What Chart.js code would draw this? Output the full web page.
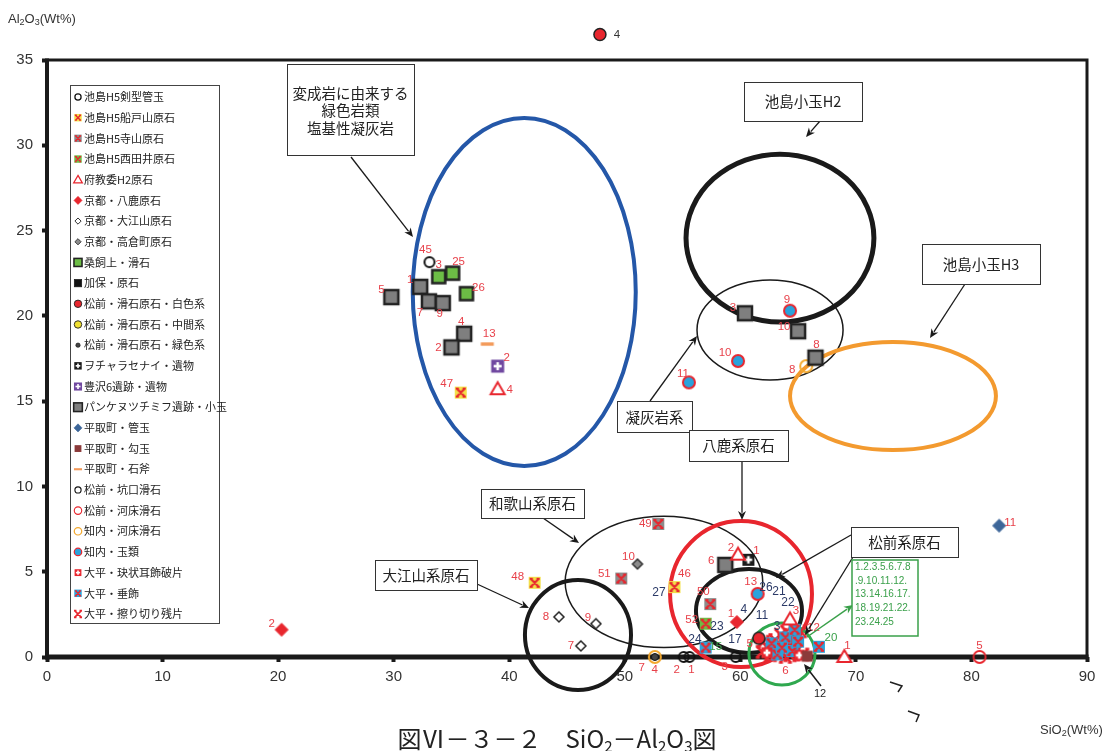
<!DOCTYPE html>
<html>
<head>
<meta charset="utf-8">
<script src="https://cdn.jsdelivr.net/npm/chart.js@4.4.1/dist/chart.umd.min.js"></script>
<style>
html, body { margin: 0; padding: 0; background: #fff; }
#wrap { width: 1105px; height: 751px; }
</style>
</head>
<body>
<div id="wrap"><canvas id="chart" width="1105" height="751"></canvas></div>
<script>
// axis ticks
const xTicks = [0, 10, 20, 30, 40, 50, 60, 70, 80, 90];
const yTicks = [0, 5, 10, 15, 20, 25, 30, 35];

// [SiO2, Al2O3, sample no.]
const kengata = [[33.1, 23.15, '45']];
const funatoyama = [[35.8, 15.5, '47'], [42.2, 4.35, '48'], [54.3, 4.1, '46']];
const terayama = [[52.9, 7.8, '49'], [49.7, 4.6, '51'], [57.4, 3.1, '50']];
const nishidai = [[57.0, 1.95, '52']];
const fukyoi = [[39.0, 15.7, '4'], [59.8, 6.0, '2'], [64.3, 2.2, '3'], [69.0, 0.0, '1']];
const yoka = [[20.3, 1.6, '2'], [59.7, 2.05, '1']];
const oeyama = [[44.3, 2.35, '8'], [47.5, 1.95, '9'], [46.2, 0.65, '7']];
const takakura = [[51.1, 5.45, '10']];
const kuwagai = [[33.9, 22.3, '3'], [35.1, 22.5, '25'], [36.3, 21.3, '26']];
const kaho = [];
const hakushoku = [[47.85, 36.5, '4'], [61.6, 1.1, '5']];
const chukan = [];
const ryokushoku = [[52.6, 0.0, '7']];
const ocharasenai = [[60.7, 5.7, '1']];
const toyosawa = [[39.0, 17.05, '2']];
const pankenu = [[32.3, 21.7, '1'], [29.8, 21.1, '5'], [33.05, 20.85, '7'], [34.25, 20.75, '9'],
  [36.1, 18.95, '4'], [35.0, 18.15, '2'], [60.4, 20.15, '3'], [65.0, 19.1, '10'],
  [66.5, 17.55, '8'], [58.7, 5.4, '6']];
const kudatama = [[82.4, 7.7, '11']];
const magatama = [[65.8, 0.05]];
const sekifu = [[38.1, 18.35, '13']];
const kokou = [[55.1, 0.0, '2'], [55.6, 0.0, '1'], [59.6, 0.0, '3']];
const kasho = [[80.7, 0.0, '5']];
const shiriuchiKasho = [[65.7, 17.05, '8'], [52.6, 0.0, '4']];
const shiriuchiTama = [[64.3, 20.3, '9'], [59.8, 17.35, '10'], [55.55, 16.1, '11'], [61.5, 3.7, '13']];
const ketsujo = [[65.1, 0.1], [62.3, 0.25]];
const suishoku = [[57.0, 0.55, '15'], [66.8, 0.6, '20'], [62.7, 0.8], [63.9, 1.15], [64.7, 1.6],
  [64.5, 0.35], [63.2, 0.15], [65.0, 0.9], [63.6, 0.55]];
const surikiri = [[61.9, 0.3], [62.3, 0.6], [62.6, 0.1], [63.0, 1.0], [63.3, 0.45], [63.5, 1.3],
  [63.9, 0.0, '6'], [64.1, 0.75], [64.3, 0.1], [64.6, 1.0], [64.9, 0.4], [65.2, 1.5, '12'],
  [63.1, 0.7], [62.0, 0.9], [64.0, 1.5], [65.4, 0.15]];

// unmarked sample numbers inside the 松前 ellipse
const navyTags = [[52.96, 3.75, '27'], [62.22, 4.04, '26'], [63.34, 3.81, '21'], [64.12, 3.17, '22'],
  [60.31, 2.75, '4'], [61.87, 2.4, '11'], [63.17, 1.76, '3'], [59.54, 1.0, '17'],
  [57.98, 1.76, '23'], [56.07, 1.0, '24']];

const RED = '#e8262e';
const LBL = '#e8414a';
const GRN = '#3aa04a';

const series = [
  { name: '池島H5剣型管玉', pts: kengata, st: { kind: 'ring', c: '#111', fill: '#fff', r: 5, lw: 2 }, off: { '45': [-4, -12] } },
  { name: '池島H5船戸山原石', pts: funatoyama, st: { kind: 'xsq', fill: '#f3e04a', s: 12 }, off: { '47': [-14, -9], '48': [-17, -6], '46': [10, -13] } },
  { name: '池島H5寺山原石', pts: terayama, st: { kind: 'xsq', fill: '#8c8c8c', s: 12 }, off: { '49': [-13, 0], '51': [-17, -5], '50': [-7, -12] } },
  { name: '池島H5西田井原石', pts: nishidai, st: { kind: 'xsq', fill: '#6cbd45', s: 12 }, off: { '52': [-14, -4] } },
  { name: '府教委H2原石', pts: fukyoi, st: { kind: 'tri', c: RED, s: 14, lw: 2 }, off: { '4': [12, 1], '2': [-7, -7], '3': [6, -9], '1': [3, -11] } },
  { name: '京都・八鹿原石', pts: yoka, st: { kind: 'dia', fill: RED, c: RED, s: 13, lw: 1 }, off: { '2': [-10, -6], '1': [-6, -8] } },
  { name: '京都・大江山原石', pts: oeyama, st: { kind: 'dia', fill: '#fff', c: '#222', s: 10, lw: 1.5 }, off: { '8': [-13, 0], '9': [-8, -6], '7': [-10, 0] } },
  { name: '京都・高倉町原石', pts: takakura, st: { kind: 'dia', fill: '#8c8c8c', c: '#333', s: 10, lw: 1.5 }, off: { '10': [-9, -7] } },
  { name: '桑飼上・滑石', pts: kuwagai, st: { kind: 'sq', fill: '#6cbd45', c: '#222', s: 13, lw: 2.5 }, off: { '3': [0, -12], '25': [6, -11], '26': [12, -6] } },
  { name: '加保・原石', pts: kaho, st: { kind: 'sq', fill: '#111', c: '#111', s: 12, lw: 1 }, off: {} },
  { name: '松前・滑石原石・白色系', pts: hakushoku, st: { kind: 'dot', fill: RED, c: '#222', r: 6, lw: 1.5 }, off: { '4': [17, 0, '#333'], '5': [-9, 6] } },
  { name: '松前・滑石原石・中間系', pts: chukan, st: { kind: 'dot', fill: '#f0e030', c: '#222', r: 6, lw: 1.5 }, off: {} },
  { name: '松前・滑石原石・緑色系', pts: ryokushoku, st: { kind: 'dot', fill: '#444', c: '#111', r: 3.5, lw: 1 }, off: { '7': [-13, 11] } },
  { name: 'ヲチャラセナイ・遺物', pts: ocharasenai, st: { kind: 'plus', fill: '#1a1a1a', s: 12 }, off: { '1': [8, -9] } },
  { name: '豊沢6遺跡・遺物', pts: toyosawa, st: { kind: 'plus', fill: '#7048a0', s: 13 }, off: { '2': [9, -8] } },
  { name: 'パンケヌツチミフ遺跡・小玉', pts: pankenu, st: { kind: 'sq', fill: '#7f7f7f', c: '#222', s: 14, lw: 2.5 },
    off: { '1': [-10, -7], '5': [-10, -7], '7': [-9, 11], '9': [-3, 11], '4': [-3, -12], '2': [-13, 0], '3': [-12, -5], '10': [-14, -4], '8': [1, -13], '6': [-14, -4] } },
  { name: '平取町・管玉', pts: kudatama, st: { kind: 'dia', fill: '#3d6699', c: '#3d6699', s: 13, lw: 1 }, off: { '11': [11, -3] } },
  { name: '平取町・勾玉', pts: magatama, st: { kind: 'sq', fill: '#8b3a3a', s: 11 }, off: {} },
  { name: '平取町・石斧', pts: sekifu, st: { kind: 'dash', c: '#f39a5a', s: 13 }, off: { '13': [2, -10] } },
  { name: '松前・坑口滑石', pts: kokou, st: { kind: 'ring', c: '#111', r: 5, lw: 1.8 }, off: { '2': [-7, 13], '1': [2, 13], '3': [-11, 10] } },
  { name: '松前・河床滑石', pts: kasho, st: { kind: 'ring', c: RED, r: 6, lw: 1.8 }, off: { '5': [0, -11] } },
  { name: '知内・河床滑石', pts: shiriuchiKasho, st: { kind: 'ring', c: '#f3a92f', r: 6, lw: 2 }, off: { '8': [-14, 4], '4': [0, 13] } },
  { name: '知内・玉類', pts: shiriuchiTama, st: { kind: 'dot', fill: '#2aa3dc', c: RED, r: 6, lw: 2 }, off: { '9': [-3, -11], '10': [-13, -8], '11': [-6, -9], '13': [-7, -12] } },
  { name: '大平・玦状耳飾破片', pts: ketsujo, st: { kind: 'plus', fill: RED, s: 11 }, off: {} },
  { name: '大平・垂飾', pts: suishoku, st: { kind: 'xsq', fill: '#2aa3dc', s: 12 }, off: { '15': [10, -1, GRN], '20': [12, -9, GRN] } },
  { name: '大平・擦り切り残片', pts: surikiri, st: { kind: 'x', c: RED, s: 11 }, off: { '6': [0, 14], '12': [13, -4] } }
];

// group outlines, in data units
const ellipses = [
  { x: 41.3, y: 21.4, rx: 9.65, ry: 10.2, c: '#2457a8', lw: 4 },
  { x: 63.43, y: 24.56, rx: 8.13, ry: 4.92, c: '#1a1a1a', lw: 5 },
  { x: 62.57, y: 19.17, rx: 6.32, ry: 2.93, c: '#1a1a1a', lw: 1.5 },
  { x: 73.21, y: 15.3, rx: 8.91, ry: 3.17, c: '#f39a2f', lw: 4 },
  { x: 53.39, y: 4.4, rx: 8.55, ry: 3.85, c: '#1a1a1a', lw: 1.5 },
  { x: 60.06, y: 3.69, rx: 6.14, ry: 4.28, c: RED, lw: 4 },
  { x: 45.95, y: 1.29, rx: 4.59, ry: 3.22, c: '#1a1a1a', lw: 4 },
  { x: 60.75, y: 2.7, rx: 4.59, ry: 2.46, c: '#1a1a1a', lw: 4 },
  { x: 63.6, y: 0.18, rx: 2.86, ry: 1.82, c: '#2fa84f', lw: 3 }
];

// call-out boxes and arrows (canvas pixels)
const callouts = [
  { box: [287, 64, 127, 91], lines: ['変成岩に由来する', '緑色岩類', '塩基性凝灰岩'], ys: [93, 110, 128], arrows: [[351, 157, 413, 237]] },
  { box: [744, 82, 118, 39], lines: ['池島小玉H2'], ys: [101], arrows: [[820, 121, 806, 137]] },
  { box: [922, 244, 118, 40], lines: ['池島小玉H3'], ys: [264], arrows: [[965, 284, 930, 338]] },
  { box: [617, 401, 75, 31], lines: ['凝灰岩系'], ys: [417], arrows: [[650, 401, 697, 336]] },
  { box: [689, 430, 99, 31], lines: ['八鹿系原石'], ys: [445], arrows: [[742, 461, 742, 520]] },
  { box: [481, 489, 103, 29], lines: ['和歌山系原石'], ys: [503], arrows: [[543, 518, 579, 543]] },
  { box: [375, 560, 102, 30], lines: ['大江山系原石'], ys: [575], arrows: [[477, 584, 529, 608]] },
  { box: [851, 527, 107, 30], lines: ['松前系原石'], ys: [542], arrows: [[851, 535, 776, 578], [853, 557, 805, 635]] }
];
const greenNote = ['1.2.3.5.6.7.8', '.9.10.11.12.', '13.14.16.17.', '18.19.21.22.', '23.24.25'];

function drawX(ctx, h, color, lw) {
  ctx.strokeStyle = color;
  ctx.lineWidth = lw;
  ctx.lineCap = 'butt';
  ctx.beginPath();
  ctx.moveTo(-h, -h); ctx.lineTo(h, h);
  ctx.moveTo(h, -h); ctx.lineTo(-h, h);
  const b = h * 0.55;
  ctx.moveTo(-h - 1, -h); ctx.lineTo(-h + b, -h);
  ctx.moveTo(h + 1, -h); ctx.lineTo(h - b, -h);
  ctx.moveTo(-h - 1, h); ctx.lineTo(-h + b, h);
  ctx.moveTo(h + 1, h); ctx.lineTo(h - b, h);
  ctx.stroke();
}

function drawMarker(ctx, st, x, y, k) {
  ctx.save();
  ctx.translate(x, y);
  ctx.scale(k, k);
  const s = st.s || 12, h = s / 2;
  if (st.kind === 'ring' || st.kind === 'dot') {
    ctx.beginPath();
    ctx.arc(0, 0, st.r, 0, Math.PI * 2);
    if (st.fill) { ctx.fillStyle = st.fill; ctx.fill(); }
    ctx.lineWidth = st.lw; ctx.strokeStyle = st.c; ctx.stroke();
  } else if (st.kind === 'sq' || st.kind === 'xsq' || st.kind === 'plus') {
    ctx.fillStyle = st.fill;
    ctx.fillRect(-h, -h, s, s);
    if (st.lw) { ctx.lineWidth = st.lw; ctx.strokeStyle = st.c; ctx.strokeRect(-h, -h, s, s); }
    if (st.kind === 'xsq') drawX(ctx, h - 2, RED, 2.2);
    if (st.kind === 'plus') {
      ctx.fillStyle = '#fff';
      ctx.fillRect(-h * 0.62, -1.3, h * 1.24, 2.6);
      ctx.fillRect(-1.3, -h * 0.62, 2.6, h * 1.24);
    }
  } else if (st.kind === 'tri') {
    ctx.beginPath();
    ctx.moveTo(0, -h); ctx.lineTo(h, h * 0.72); ctx.lineTo(-h, h * 0.72); ctx.closePath();
    ctx.fillStyle = '#fff'; ctx.fill();
    ctx.lineWidth = st.lw; ctx.strokeStyle = st.c; ctx.stroke();
  } else if (st.kind === 'dia') {
    ctx.beginPath();
    ctx.moveTo(0, -h); ctx.lineTo(h, 0); ctx.lineTo(0, h); ctx.lineTo(-h, 0); ctx.closePath();
    ctx.fillStyle = st.fill; ctx.fill();
    ctx.lineWidth = st.lw; ctx.strokeStyle = st.c; ctx.stroke();
  } else if (st.kind === 'dash') {
    ctx.fillStyle = st.c;
    ctx.fillRect(-h, -1.7, s, 3.4);
  } else if (st.kind === 'x') {
    drawX(ctx, h, st.c, 2.6);
  }
  ctx.restore();
}

function markerCanvas(st) {
  const cv = document.createElement('canvas');
  cv.width = 24; cv.height = 24;
  drawMarker(cv.getContext('2d'), st, 12, 12, 1);
  return cv;
}

function arrow(ctx, x1, y1, x2, y2, color, lw) {
  const a = Math.atan2(y2 - y1, x2 - x1), L = 9, W = 4;
  ctx.strokeStyle = color; ctx.fillStyle = color; ctx.lineWidth = lw;
  ctx.beginPath();
  ctx.moveTo(x1, y1);
  ctx.lineTo(x2 - Math.cos(a) * L * 0.8, y2 - Math.sin(a) * L * 0.8);
  ctx.stroke();
  ctx.beginPath();
  ctx.moveTo(x2, y2);
  ctx.lineTo(x2 - Math.cos(a) * L - Math.sin(a) * W, y2 - Math.sin(a) * L + Math.cos(a) * W);
  ctx.lineTo(x2 - Math.cos(a) * L * 0.7, y2 - Math.sin(a) * L * 0.7);
  ctx.lineTo(x2 - Math.cos(a) * L + Math.sin(a) * W, y2 - Math.sin(a) * L - Math.cos(a) * W);
  ctx.closePath();
  ctx.fill();
}

// text with sub-scripts: parts = [text, size, dy]
function richText(ctx, parts, x, y, align, family, color) {
  ctx.fillStyle = color;
  ctx.textBaseline = 'alphabetic';
  ctx.textAlign = 'left';
  let w = 0;
  parts.forEach(p => { ctx.font = p[1] + 'px ' + family; w += ctx.measureText(p[0]).width; });
  let cx = align === 'center' ? x - w / 2 : x;
  parts.forEach(p => {
    ctx.font = p[1] + 'px ' + family;
    ctx.fillText(p[0], cx, y + p[2]);
    cx += ctx.measureText(p[0]).width;
  });
}

const FONT = "'Liberation Sans', 'Noto Sans CJK JP', sans-serif";
const JP = "'Noto Sans CJK JP', sans-serif";
Chart.defaults.font.family = FONT;

const framePlugin = {
  id: 'frame',
  beforeDatasetsDraw(chart) {
    const { ctx, chartArea: a, scales } = chart;
    ctx.save();
    ctx.strokeStyle = '#1a1a1a';
    ctx.lineWidth = 3;
    ctx.beginPath();
    ctx.moveTo(a.left, a.top); ctx.lineTo(a.right, a.top); ctx.lineTo(a.right, a.bottom);
    ctx.stroke();
    ctx.lineWidth = 4;
    ctx.beginPath(); ctx.moveTo(a.left, a.top - 1.5); ctx.lineTo(a.left, a.bottom); ctx.stroke();
    ctx.lineWidth = 5;
    ctx.beginPath(); ctx.moveTo(a.left - 2, a.bottom); ctx.lineTo(a.right + 1.5, a.bottom); ctx.stroke();

    // group ellipses
    ellipses.forEach(e => {
      const cx = scales.x.getPixelForValue(e.x), cy = scales.y.getPixelForValue(e.y);
      const rx = Math.abs(scales.x.getPixelForValue(e.x + e.rx) - cx);
      const ry = Math.abs(scales.y.getPixelForValue(e.y + e.ry) - cy);
      ctx.strokeStyle = e.c; ctx.lineWidth = e.lw;
      ctx.beginPath(); ctx.ellipse(cx, cy, rx, ry, 0, 0, Math.PI * 2); ctx.stroke();
    });
    ctx.restore();
  }
};

const notePlugin = {
  id: 'notes',
  afterDatasetsDraw(chart) {
    const { ctx, scales, chartArea } = chart;
    ctx.save();
    // points above the plot frame are skipped by Chart.js, draw them here
    chart.data.datasets.forEach((ds, i) => {
      chart.getDatasetMeta(i).data.forEach((el, j) => {
        if (el.y < chartArea.top - 6) drawMarker(ctx, series[i].st, el.x, el.y, 1);
      });
    });
    // point numbers
    ctx.font = '11.5px ' + FONT;
    ctx.textAlign = 'center';
    ctx.textBaseline = 'middle';
    chart.data.datasets.forEach((ds, i) => {
      const meta = chart.getDatasetMeta(i);
      const off = series[i].off;
      meta.data.forEach((el, j) => {
        const id = ds.data[j].id;
        if (!id) return;
        const o = off[id] || [8, -8];
        ctx.fillStyle = o[2] || LBL;
        ctx.fillText(id, el.x + o[0], el.y + o[1]);
      });
    });
    ctx.font = '12px ' + FONT;
    ctx.fillStyle = '#2b3a67';
    navyTags.forEach(t => {
      ctx.fillText(t[2], scales.x.getPixelForValue(t[0]), scales.y.getPixelForValue(t[1]));
    });

    // call-outs
    callouts.forEach(c => {
      const [bx, by, bw, bh] = c.box;
      c.arrows.forEach(a => arrow(ctx, a[0], a[1], a[2], a[3], '#1a1a1a', 1.3));
      ctx.fillStyle = '#fff';
      ctx.fillRect(bx, by, bw, bh);
      ctx.strokeStyle = '#333'; ctx.lineWidth = 1;
      ctx.strokeRect(bx + 0.5, by + 0.5, bw, bh);
      ctx.fillStyle = '#222';
      ctx.font = '14.5px ' + JP;
      ctx.textAlign = 'center'; ctx.textBaseline = 'middle';
      c.lines.forEach((t, k) => ctx.fillText(t, bx + bw / 2, c.ys[k]));
    });

    // green list of 大平 sample numbers
    arrow(ctx, 807, 637, 853, 605, GRN, 1.5);
    ctx.fillStyle = '#fff';
    ctx.fillRect(852, 560, 66, 76);
    ctx.strokeStyle = GRN; ctx.lineWidth = 1.5;
    ctx.strokeRect(852, 560, 66, 76);
    ctx.fillStyle = GRN;
    ctx.font = '10px ' + FONT;
    ctx.textAlign = 'left';
    greenNote.forEach((t, k) => ctx.fillText(t, 855, 567 + k * 13.8));

    // arrow for 平取町 no.12
    arrow(ctx, 821, 686, 804, 664, '#1a1a1a', 1.5);
    ctx.fillStyle = '#222';
    ctx.font = '11px ' + FONT;
    ctx.textAlign = 'center';
    ctx.fillText('12', 820, 694);

    // stray marks below the axis
    ctx.strokeStyle = '#222'; ctx.lineWidth = 1.5;
    ctx.beginPath();
    ctx.moveTo(890, 682); ctx.lineTo(902, 686); ctx.lineTo(898, 692);
    ctx.moveTo(908, 711); ctx.lineTo(919, 715); ctx.lineTo(916, 722);
    ctx.stroke();
    ctx.restore();
  }
};

const legendPlugin = {
  id: 'legendBox',
  afterDraw(chart) {
    const ctx = chart.ctx;
    ctx.save();
    ctx.fillStyle = '#fff';
    ctx.fillRect(70, 85, 149, 538);
    ctx.strokeStyle = '#444'; ctx.lineWidth = 1;
    ctx.strokeRect(70.5, 85.5, 149, 538);
    ctx.font = '11px ' + JP;
    ctx.textAlign = 'left';
    ctx.textBaseline = 'middle';
    series.forEach((se, i) => {
      const y = 97 + i * 20.68;
      drawMarker(ctx, se.st, 78, y, 0.62);
      ctx.fillStyle = '#222';
      ctx.fillText(se.name, 84, y);
    });

    // axis titles and caption
    richText(ctx, [['Al', 13, 0], ['2', 9, 2], ['O', 13, 0], ['3', 9, 2], ['(Wt%)', 13, 0]], 8, 23, 'left', FONT, '#333');
    richText(ctx, [['SiO', 13, 0], ['2', 9, 2], ['(Wt%)', 13, 0]], 1040, 734, 'left', FONT, '#333');
    richText(ctx, [['図Ⅵ－３－２　SiO', 24, 0], ['2', 15, 4], ['－Al', 24, 0], ['2', 15, 4], ['O', 24, 0], ['3', 15, 4], ['図', 24, 0]], 557, 748, 'center', JP, '#222');
    ctx.restore();
  }
};

const datasets = series.map(se => ({
  label: se.name,
  data: se.pts.map(p => ({ x: p[0], y: p[1], id: p[2] })),
  pointStyle: markerCanvas(se.st),
  pointRadius: 6,
  showLine: false,
  clip: false
}));

new Chart(document.getElementById('chart'), {
  type: 'scatter',
  data: { datasets: datasets },
  options: {
    responsive: false,
    animation: false,
    devicePixelRatio: 1,
    layout: { padding: { top: 60, right: 18, left: 0, bottom: 0 } },
    plugins: { legend: { display: false }, tooltip: { enabled: false } },
    scales: {
      x: {
        type: 'linear', min: 0, max: 90,
        afterBuildTicks: s => { s.ticks = xTicks.map(v => ({ value: v })); },
        afterFit: s => { s.height = 94; },
        grid: { display: true, drawOnChartArea: false, drawTicks: true, tickLength: 5, tickWidth: 4, tickColor: '#1a1a1a' },
        border: { display: false },
        ticks: { color: '#333', font: { size: 15 }, padding: 6, maxRotation: 0 }
      },
      y: {
        type: 'linear', min: 0, max: 35,
        afterBuildTicks: s => { s.ticks = yTicks.map(v => ({ value: v })); },
        afterFit: s => { s.width = 47; },
        grid: { display: true, drawOnChartArea: false, drawTicks: true, tickLength: 5, tickWidth: 4, tickColor: '#1a1a1a' },
        border: { display: false },
        ticks: { color: '#333', font: { size: 15 }, padding: 9 }
      }
    }
  },
  plugins: [framePlugin, notePlugin, legendPlugin]
});
</script>
</body>
</html>
